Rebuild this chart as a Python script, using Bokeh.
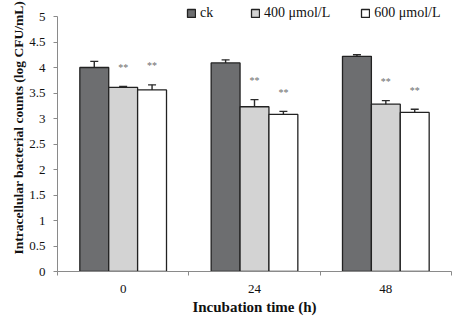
from bokeh.plotting import figure
from bokeh.models import (ColumnDataSource, Whisker, TeeHead, FixedTicker, Legend, LegendItem,
                          Range1d, Title)
from bokeh.core.properties import value
from bokeh.embed import file_html
from bokeh.resources import INLINE

# ---- data ----
categories = ["0", "24", "48"]
series_names = ["ck", "400 \u03bcmol/L", "600 \u03bcmol/L"]
ck_vals = [4.00, 4.09, 4.22]
ck_err = [0.12, 0.06, 0.03]
t400_vals = [3.61, 3.23, 3.28]
t400_err = [0.02, 0.14, 0.07]
t600_vals = [3.56, 3.08, 3.12]
t600_err = [0.10, 0.06, 0.06]
t400_sig = ["**", "**", "**"]
t600_sig = ["**", "**", "**"]
y_ticks = [0, 0.5, 1, 1.5, 2, 2.5, 3, 3.5, 4, 4.5, 5]
y_axis_max = 5

FONT = "Liberation Serif"
centers = [i + 0.5 for i in range(len(categories))]
BW = 0.22
offsets = [-BW, 0.0, BW]
fills = ["#6d6e70", "#d3d3d3", "#ffffff"]

# frame spans y=1..271 px; value 5 sits at y=16 px, headroom above holds the legend
FRAME_TOP_PAD = 15.0 / 255.0
p = figure(width=454, height=318, output_backend="svg", toolbar_location=None,
           x_range=Range1d(0, 3), y_range=Range1d(0, y_axis_max * (1 + FRAME_TOP_PAD)),
           min_border_left=57, min_border_right=3, min_border_top=1, min_border_bottom=47)
p.outline_line_color = None
p.grid.grid_line_color = None
p.background_fill_color = "white"

series = [(ck_vals, ck_err, None), (t400_vals, t400_err, t400_sig), (t600_vals, t600_err, t600_sig)]
renderers = []
for k, (vals, errs, sig) in enumerate(series):
    xs = [c + offsets[k] for c in centers]
    src = ColumnDataSource(dict(x=xs, top=vals,
                                upper=[v + e for v, e in zip(vals, errs)],
                                lower=[v - e for v, e in zip(vals, errs)]))
    r = p.vbar(x="x", top="top", width=BW, bottom=0, source=src,
               fill_color=fills[k], line_color="#222222", line_width=1.3)
    renderers.append(r)
    w = Whisker(base="x", upper="upper", lower="lower", source=src,
                line_color="#2a2a2a", line_width=1.4,
                upper_head=TeeHead(size=8, line_color="#2a2a2a", line_width=1.4),
                lower_head=TeeHead(size=8, line_color="#2a2a2a", line_width=1.4))
    p.add_layout(w)
    if sig is not None:
        src.data["sig"] = sig
        p.text(x="x", y="upper", text="sig", source=src, text_align="center",
               text_baseline="middle", y_offset=-19, text_font=value(FONT),
               text_font_size="10px", text_color="#6e6e6e")

# axes
xa = p.xaxis[0]
xa.ticker = FixedTicker(ticks=centers, minor_ticks=[0, 1, 2, 3])
xa.major_label_overrides = {c: lab for c, lab in zip(centers, categories)}
xa.major_tick_out = 0
xa.major_tick_in = 0
xa.minor_tick_out = 4
xa.minor_tick_in = 0
xa.minor_tick_line_color = "#8a8a8a"
xa.axis_line_color = "#8a8a8a"
xa.major_label_standoff = 9
xa.major_label_text_font = FONT
xa.major_label_text_font_size = "13px"
xa.major_label_text_color = "#111111"
xa.axis_label = "Incubation time (h)"
xa.axis_label_text_font = FONT
xa.axis_label_text_font_style = "bold"
xa.axis_label_text_font_size = "15px"
xa.axis_label_text_color = "#111111"
xa.axis_label_standoff = 3

ya = p.yaxis[0]
ya.ticker = FixedTicker(ticks=y_ticks, minor_ticks=[])
ya.bounds = (0, y_axis_max)
ya.major_tick_out = 4
ya.major_tick_in = 0
ya.major_tick_line_color = "#8a8a8a"
ya.axis_line_color = "#8a8a8a"
ya.major_label_standoff = 8
ya.major_label_text_font = FONT
ya.major_label_text_font_size = "13px"
ya.major_label_text_color = "#111111"

ytitle = Title(text="Intracellular bacterial counts (log CFU/mL)", align="left",
               text_font=FONT, text_font_style="bold", text_font_size="13.5px",
               text_color="#111111", offset=17, standoff=2)
p.add_layout(ytitle, "left")

# legend inside the headroom at the top of the frame
leg = Legend(items=[LegendItem(label=series_names[k], renderers=[renderers[k]]) for k in range(3)],
             location=(129, 250), orientation="horizontal",
             glyph_width=10, glyph_height=10, label_standoff=4,
             padding=0, margin=0, spacing=30,
             border_line_color=None, background_fill_alpha=0,
             label_text_font=FONT, label_text_font_size="14px",
             label_text_color="#111111")
p.add_layout(leg)

open("out.html", "w").write(file_html(p, INLINE))
